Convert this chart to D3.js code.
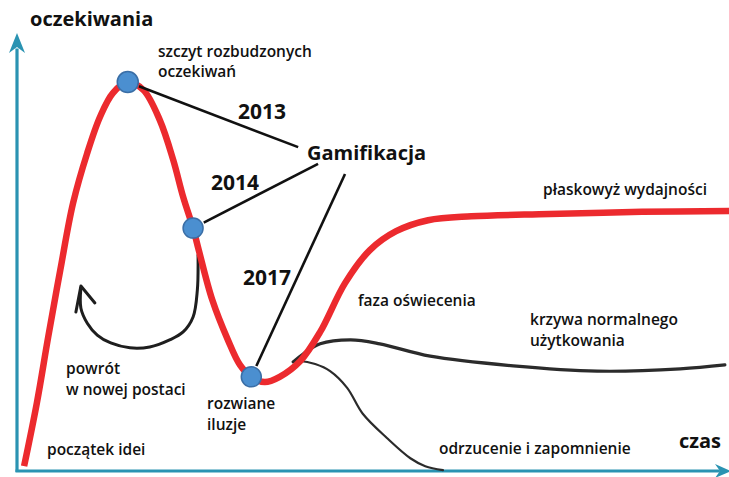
<!DOCTYPE html>
<html>
<head>
<meta charset="utf-8">
<script src="https://cdn.jsdelivr.net/npm/d3@7"></script>
<style>
  html, body { margin: 0; padding: 0; background: #fff; }
  svg { display: block; }
  text { font-family: "Open Sans", "Noto Sans", sans-serif; fill: #111; }
</style>
</head>
<body>
<svg id="chart" width="729" height="477"></svg>
<script>
// ---- data (time 0..100, expectations 0..100) ----
const hypeT = [1.0, 2.8, 4.4, 6.1, 7.9, 9.9, 11.7, 13.5, 15.6, 17.8, 20.1, 22.0, 23.4, 24.8, 25.6, 27.5, 29.7, 31.4, 33.0, 34.9, 37.0, 39.9, 42.7, 46.2, 49.7, 53.4, 57.9, 64.0, 75.0, 88.0, 100.3];
const hypeE = [1.1, 15.5, 30.5, 45.7, 60.9, 72.3, 80.5, 85.9, 88.4, 86.6, 79.8, 70.7, 62.3, 55.2, 50.2, 38.9, 29.8, 24.1, 21.4, 20.2, 21.4, 25.0, 31.6, 42.7, 50.2, 54.5, 57.0, 57.9, 58.4, 58.9, 59.1];
const normalT = [38.9, 40.3, 42.7, 47.0, 51.1, 58.2, 69.9, 81.7, 93.4, 99.7];
const normalE = [24.8, 26.6, 28.9, 29.8, 28.9, 26.1, 23.9, 22.7, 23.2, 24.1];
const rejectT = [38.9, 39.9, 42.0, 44.1, 46.5, 48.7, 52.1, 55.4, 57.5, 60.0];
const rejectE = [24.8, 25.0, 24.3, 22.7, 18.9, 13.0, 7.5, 2.9, 1.1, 0.2];
const loopT = [25.5, 25.4, 24.8, 23.4, 21.5, 18.7, 15.9, 13.2, 11.3, 9.9, 9.0, 9.0];
const loopE = [49.1, 41.1, 35.0, 31.6, 29.8, 28.2, 28.0, 29.1, 30.9, 33.6, 37.0, 41.6];
const pointYears = ["2013", "2014", "2017"];
const pointT = [15.6, 24.8, 33.0];
const pointE = [88.4, 55.2, 21.4];
const hubT = [39.6, 42.4, 46.2];   // connector ends near the label
const hubE = [73.6, 69.8, 67.5];

const hubLabel = "Gamifikacja";
const yLabel = "oczekiwania";
const xLabel = "czas";

// ---- scales ----
const svg = d3.select("#chart");
const x = d3.scaleLinear().domain([0, 100]).range([17, 727]);
const y = d3.scaleLinear().domain([0, 100]).range([471, 31]);

const teal = "#2a93b2";

// axes
svg.append("line").attr("x1", x(0)).attr("x2", x(0)).attr("y1", y(0) + 1).attr("y2", y(96))
  .attr("stroke", teal).attr("stroke-width", 3.2);
svg.append("line").attr("x1", x(0) - 1.5).attr("x2", x(99)).attr("y1", y(0)).attr("y2", y(0))
  .attr("stroke", teal).attr("stroke-width", 3.2);
// arrow heads
const yt = [x(0), y(100) + 2];
svg.append("path")
  .attr("d", `M${yt[0]},${yt[1]} L${yt[0] + 8},${yt[1] + 20} L${yt[0]},${yt[1] + 14} L${yt[0] - 8},${yt[1] + 20} Z`)
  .attr("fill", teal);
const xt = [731, y(0)];
svg.append("path")
  .attr("d", `M${xt[0]},${xt[1]} L${xt[0] - 16},${xt[1] - 7} L${xt[0] - 11},${xt[1]} L${xt[0] - 16},${xt[1] + 7} Z`)
  .attr("fill", teal);

const line = d3.line().x(d => x(d[0])).y(d => y(d[1])).curve(d3.curveCatmullRom.alpha(0.5));
const zip = (a, b) => a.map((v, i) => [v, b[i]]);

// loop arrow "powrót w nowej postaci"
svg.append("path").attr("d", line(zip(loopT, loopE)))
  .attr("fill", "none").attr("stroke", "#1e1e1e").attr("stroke-width", 3).attr("stroke-linecap", "round");
const tip = [x(loopT[loopT.length - 1]), y(loopE[loopE.length - 1]) - 2];
svg.append("path")
  .attr("d", `M${tip[0] - 5},${tip[1] + 26} L${tip[0]},${tip[1]} L${tip[0] + 14},${tip[1] + 17}`)
  .attr("fill", "none").attr("stroke", "#1e1e1e").attr("stroke-width", 3)
  .attr("stroke-linecap", "round").attr("stroke-linejoin", "round");

// normal use and rejection curves
svg.append("path").attr("d", line(zip(normalT, normalE)))
  .attr("fill", "none").attr("stroke", "#2b2b2b").attr("stroke-width", 3.2).attr("stroke-linecap", "round");
svg.append("path").attr("d", line(zip(rejectT, rejectE)))
  .attr("fill", "none").attr("stroke", "#2b2b2b").attr("stroke-width", 2.2).attr("stroke-linecap", "round");

// hype curve
svg.append("path").attr("d", line(zip(hypeT, hypeE)))
  .attr("fill", "none").attr("stroke", "#ec2a2e").attr("stroke-width", 6.5).attr("stroke-linecap", "butt");

// connectors
pointYears.forEach((yr, i) => {
  const dx = x(hubT[i]) - x(pointT[i]);
  const dy = y(hubE[i]) - y(pointE[i]);
  const len = Math.hypot(dx, dy);
  const off = 12;
  svg.append("line")
    .attr("x1", x(pointT[i]) + dx / len * off).attr("y1", y(pointE[i]) + dy / len * off)
    .attr("x2", x(hubT[i])).attr("y2", y(hubE[i]))
    .attr("stroke", "#111").attr("stroke-width", 2.6);
});

// points
svg.selectAll("circle.pt").data(pointT).join("circle")
  .attr("class", "pt")
  .attr("cx", d => x(d)).attr("cy", (d, i) => y(pointE[i]))
  .attr("r", (d, i) => i === 0 ? 10.5 : 10)
  .attr("fill", "#4b8fd0").attr("stroke", "#3a6ea6").attr("stroke-width", 1.5);

// texts
function txt(s, px, py, size, weight) {
  return svg.append("text").attr("x", px).attr("y", py)
    .attr("font-size", size).attr("font-weight", weight).text(s);
}
txt(yLabel, 30, 26, 20, 700);
txt(xLabel, 679, 448, 20, 700);
txt(hubLabel, 307, 160, 20, 700);
const yearPos = [[238, 119], [211, 190], [243, 285]];
pointYears.forEach((yr, i) => txt(yr, yearPos[i][0], yearPos[i][1], 21, 700));

const labels = [
  ["szczyt rozbudzonych", 158, 57],
  ["oczekiwań", 158, 77],
  ["płaskowyż wydajności", 543, 195],
  ["faza oświecenia", 358, 306],
  ["krzywa normalnego", 530, 325],
  ["użytkowania", 530, 346],
  ["odrzucenie i zapomnienie", 439, 454],
  ["powrót", 66, 374],
  ["w nowej postaci", 66, 395],
  ["rozwiane", 207, 409],
  ["iluzje", 207, 430],
  ["początek idei", 47, 455]
];
labels.forEach(l => txt(l[0], l[1], l[2], 15.5, 600));
</script>
</body>
</html>
